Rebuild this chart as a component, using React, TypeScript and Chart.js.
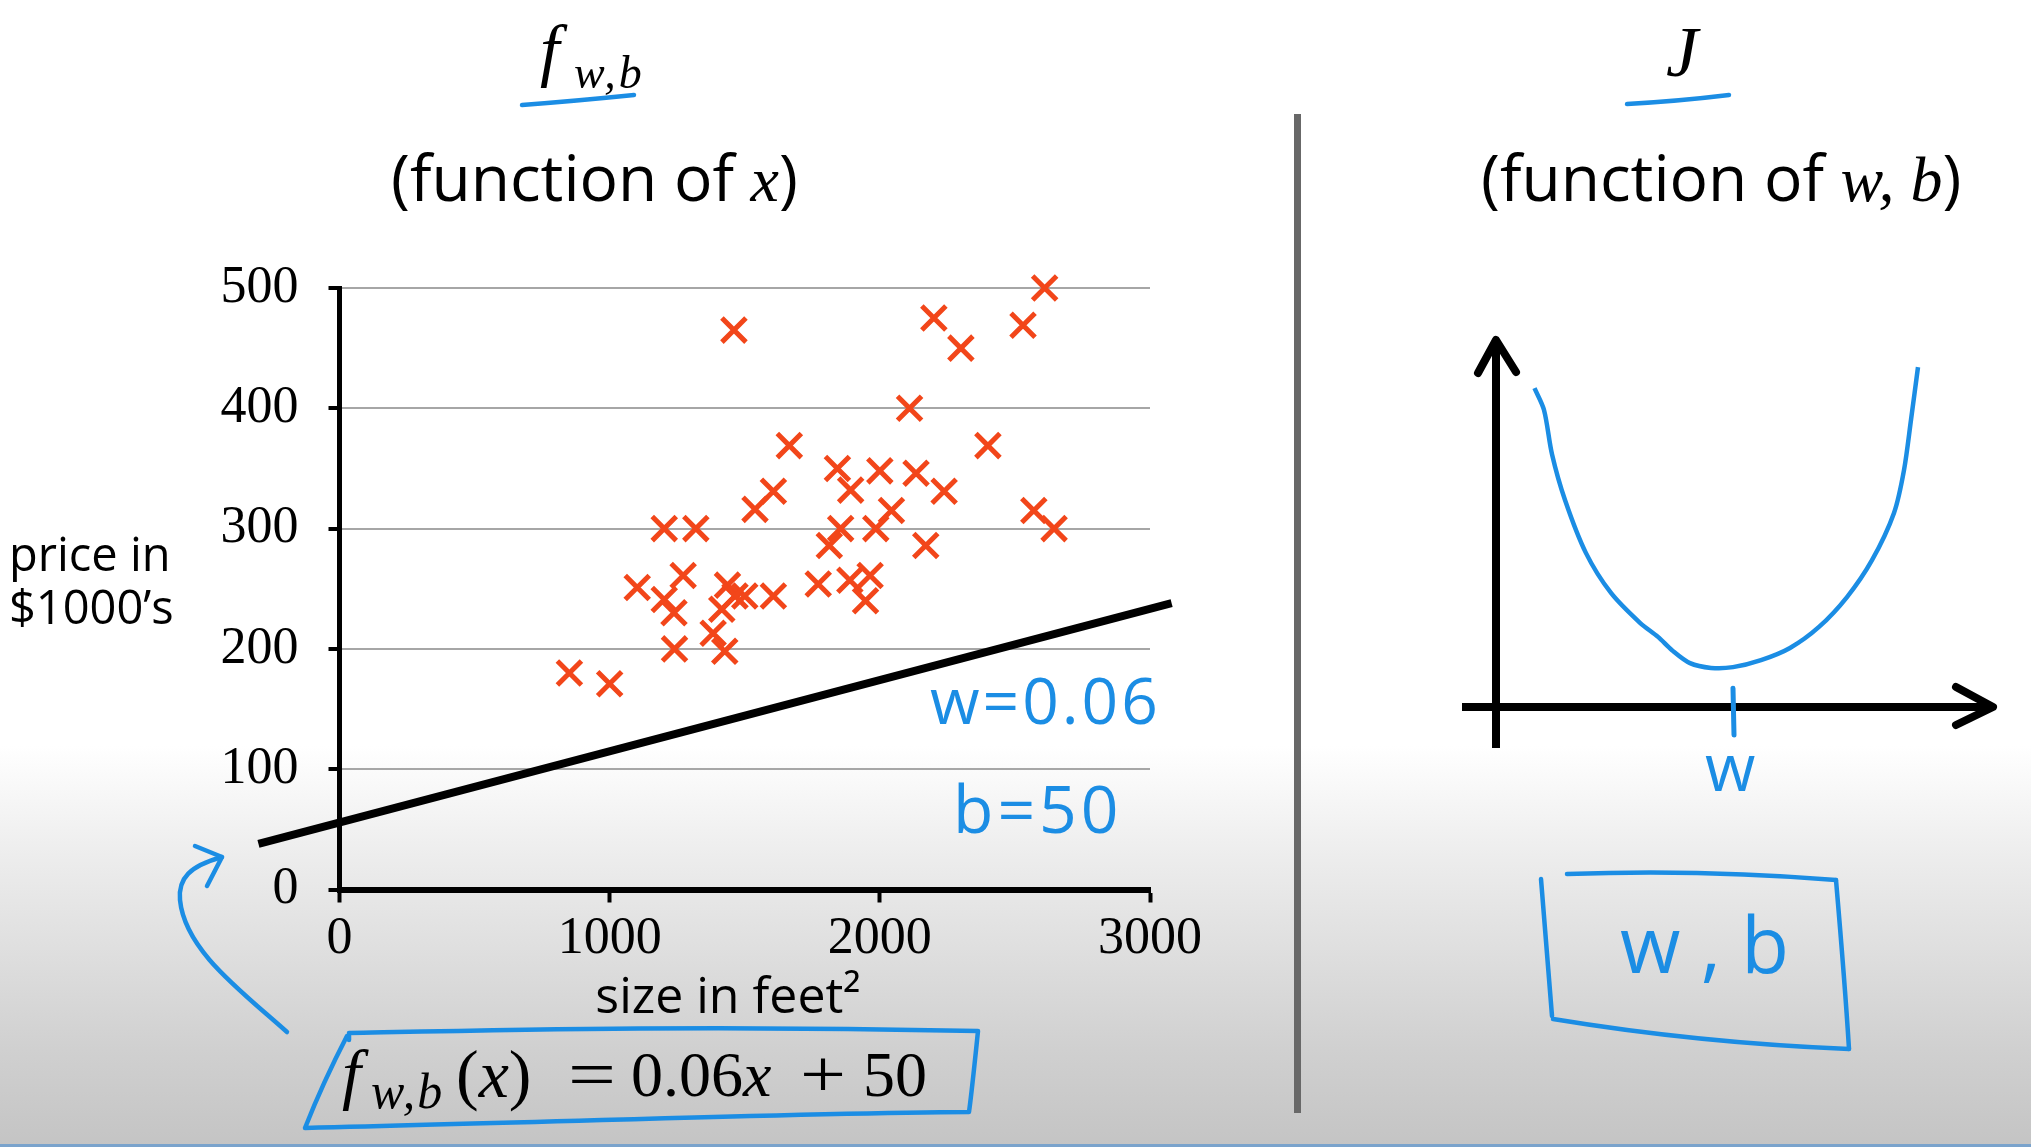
import React, { useEffect, useRef } from "react";
import { Chart, registerables } from "chart.js";

Chart.register(...registerables);

// ---------- data: house prices (left panel) ----------
const sizeSqft = [
  1460, 2610, 2200, 2300, 2530, 2110, 1665, 2400, 1843, 2000,
  2134, 1892, 2238, 1606, 1538, 2043, 2570, 1202, 1319, 1855,
  1985, 2645, 1813, 2170, 1272, 1102, 1436, 1772, 1889, 1964,
  1500, 1606, 1202, 1464, 1947, 1238, 1415, 1383, 1240, 1426,
  851, 1000,
];
const priceK = [
  465, 500, 475, 450, 469, 400, 369, 369, 350, 348,
  346, 332, 331, 331, 316, 315, 315, 300, 300, 300,
  300, 300, 286, 286, 261, 251, 253, 254, 257, 261,
  244, 244, 241, 244, 240, 230, 233, 213, 200, 198,
  180, 171,
];
// model line f(x) endpoints as drawn
const modelLineX = [-300, 3080];
const modelLineY = [38, 238];
const xTickValues = [0, 1000, 2000, 3000];
const yTickValues = [0, 100, 200, 300, 400, 500];

// ---------- data: cost curve J(w) (right panel, sketch units) ----------
const costW = [7.7, 9.6, 11.2, 13.8, 18, 23, 28.8, 32.4, 35.2, 38.8, 43, 47.4, 53, 58.8, 64.6, 70.2, 75.2, 79.6, 81.6, 83, 84.4];
const costJ = [86.4, 80.5, 68.5, 56.1, 41.7, 30.9, 22.8, 19, 15.4, 11.9, 10.6, 10.8, 12.7, 16, 21.7, 29.8, 39.8, 52.6, 64.2, 77.8, 92.1];
const costMinW = 47.4;
const costTickJ = [5.1, -7.6];
const costAxisX = [-6.8, 99.8];
const costAxisY = [-11.1, 100];

const BLUE = "#1b8de4";
const RED = "#f2461a";
const SANS = '"Open Sans", "Noto Sans", sans-serif';
const SERIF = '"Liberation Serif", "DejaVu Serif", serif';

// hand-drawn blue annotation strokes (page pixels)
const annotationPaths = [
  "M 522 105 Q 575 101 634 95",
  "M 1627 104 Q 1680 101 1729 95",
  "M 287 1032 C 240 990, 185 950, 180 900 C 178 878, 190 866, 222 857",
  "M 195 846 L 222 857 L 207 886",
  "M 349 1040 L 349 1033 C 500 1030, 700 1025, 978 1031 C 975 1060, 972 1090, 969 1112 C 800 1113, 600 1121, 305 1128 C 318 1095, 332 1065, 347 1036",
  "M 1541 879 L 1552 1016",
  "M 1567 874 C 1650 871, 1750 873, 1836 880",
  "M 1836 880 C 1842 950, 1846 1000, 1849 1049",
  "M 1553 1019 C 1650 1035, 1750 1045, 1849 1049",
];

const annotationPlugin = {
  id: "annotations",
  afterDraw(chart: any) {
    const ctx = chart.ctx;
    ctx.save();
    ctx.strokeStyle = BLUE;
    ctx.lineWidth = 4.5;
    ctx.lineCap = "round";
    ctx.lineJoin = "round";
    annotationPaths.forEach((d) => ctx.stroke(new Path2D(d)));
    ctx.restore();
  },
};

const costAxesPlugin = {
  id: "costAxes",
  beforeDatasetsDraw(chart: any) {
    const { ctx } = chart;
    const xs = chart.scales.x;
    const ys = chart.scales.y;
    const x0 = xs.getPixelForValue(0);
    const y0 = ys.getPixelForValue(0);
    const top = ys.getPixelForValue(costAxisY[1]);
    const bottom = ys.getPixelForValue(costAxisY[0]);
    const left = xs.getPixelForValue(costAxisX[0]);
    const right = xs.getPixelForValue(costAxisX[1]);
    ctx.save();
    ctx.strokeStyle = "#000";
    ctx.lineWidth = 8;
    ctx.lineCap = "butt";
    ctx.beginPath();
    ctx.moveTo(x0, bottom);
    ctx.lineTo(x0, top + 3);
    ctx.moveTo(left, y0);
    ctx.lineTo(right - 3, y0);
    ctx.stroke();
    ctx.lineCap = "round";
    ctx.lineJoin = "round";
    ctx.beginPath();
    ctx.moveTo(x0 - 18, top + 35);
    ctx.lineTo(x0, top + 2);
    ctx.lineTo(x0 + 20, top + 34);
    ctx.moveTo(right - 39, y0 - 20);
    ctx.lineTo(right - 2, y0);
    ctx.lineTo(right - 39, y0 + 18);
    ctx.stroke();
    ctx.restore();
  },
  afterDatasetsDraw(chart: any) {
    const { ctx } = chart;
    const xs = chart.scales.x;
    const ys = chart.scales.y;
    const xm = xs.getPixelForValue(costMinW);
    ctx.save();
    ctx.strokeStyle = BLUE;
    ctx.lineWidth = 5;
    ctx.lineCap = "round";
    ctx.beginPath();
    ctx.moveTo(xm, ys.getPixelForValue(costTickJ[0]));
    ctx.lineTo(xm + 1, ys.getPixelForValue(costTickJ[1]));
    ctx.stroke();
    ctx.restore();
  },
};

const abs = (left: number, top: number, size: number, family: string, extra: any = {}) => ({
  position: "absolute" as const,
  left,
  top,
  fontSize: size,
  fontFamily: family,
  lineHeight: 1,
  whiteSpace: "nowrap" as const,
  margin: 0,
  color: "#000",
  ...extra,
});

export default function App() {
  const leftRef = useRef<HTMLCanvasElement>(null);
  const rightRef = useRef<HTMLCanvasElement>(null);

  useEffect(() => {
    const left = new Chart(leftRef.current as HTMLCanvasElement, {
      type: "scatter",
      data: {
        datasets: [
          {
            type: "line",
            data: modelLineX.map((x, i) => ({ x, y: modelLineY[i] })),
            borderColor: "#000",
            borderWidth: 8,
            pointRadius: 0,
            clip: false,
            order: 2,
          } as any,
          {
            type: "scatter",
            data: sizeSqft.map((x, i) => ({ x, y: priceK[i] })),
            pointStyle: "crossRot",
            pointRadius: 17,
            borderColor: RED,
            backgroundColor: RED,
            borderWidth: 5,
            clip: false,
            order: 1,
          } as any,
        ],
      },
      options: {
        responsive: false,
        animation: false,
        events: [],
        layout: { padding: { left: 219.5, top: 288, right: 881, bottom: 157.5 } },
        plugins: { legend: { display: false }, tooltip: { enabled: false } },
        scales: {
          x: {
            type: "linear",
            min: 0,
            max: 3000,
            afterBuildTicks: (s: any) => {
              s.ticks = xTickValues.map((v) => ({ value: v }));
            },
            afterFit: (s: any) => {
              s.height = 100;
            },
            grid: { drawOnChartArea: false, drawTicks: true, tickLength: 13, tickWidth: 4, tickColor: "#000" },
            border: { display: true, color: "#000", width: 6 },
            ticks: {
              font: { family: SERIF, size: 52 },
              color: "#000",
              padding: 6,
              maxRotation: 0,
              autoSkip: false,
              callback: (v: any) => String(v),
            },
          },
          y: {
            type: "linear",
            min: 0,
            max: 500,
            afterBuildTicks: (s: any) => {
              s.ticks = yTickValues.map((v) => ({ value: v }));
            },
            afterFit: (s: any) => {
              s.width = 120;
            },
            grid: { color: "#a6a6a6", lineWidth: 2, drawTicks: true, tickLength: 11, tickWidth: 4, tickColor: "#000" },
            border: { display: true, color: "#000", width: 5 },
            ticks: {
              font: { family: SERIF, size: 52 },
              color: "#000",
              padding: 30,
              autoSkip: false,
              callback: (v: any) => String(v),
            },
          },
        },
      } as any,
      plugins: [annotationPlugin],
    });

    const right = new Chart(rightRef.current as HTMLCanvasElement, {
      type: "line",
      data: {
        datasets: [
          {
            data: costW.map((w, i) => ({ x: w, y: costJ[i] })),
            borderColor: BLUE,
            borderWidth: 4.5,
            pointRadius: 0,
            tension: 0.3,
            clip: false,
            fill: false,
          } as any,
        ],
      },
      options: {
        responsive: false,
        animation: false,
        events: [],
        layout: { padding: { left: 96, top: 38, right: 35, bottom: 93 } },
        plugins: { legend: { display: false }, tooltip: { enabled: false } },
        scales: {
          x: { type: "linear", min: 0, max: 100, display: false },
          y: { type: "linear", min: 0, max: 100, display: false },
        },
      } as any,
      plugins: [costAxesPlugin],
    });

    return () => {
      left.destroy();
      right.destroy();
    };
  }, []);

  return (
    <div
      style={{
        position: "fixed",
        left: 0,
        top: 0,
        width: 2031,
        height: 1147,
        overflow: "hidden",
        background:
          "linear-gradient(to bottom, #ffffff 0%, #ffffff 65%, #ececec 75%, #d0d0d0 91.5%, #c4c4c4 100%)",
      }}
    >
      <canvas ref={leftRef} width={2031} height={1147} style={{ position: "absolute", left: 0, top: 0, width: 2031, height: 1147 }} />
      <canvas ref={rightRef} width={631} height={500} style={{ position: "absolute", left: 1400, top: 300, width: 631, height: 500 }} />

      {/* divider and bottom edge */}
      <div style={{ position: "absolute", left: 1294, top: 114, width: 7, height: 999, background: "#686868" }} />
      <div style={{ position: "absolute", left: 0, top: 1144, width: 2031, height: 3, background: "#7aa3cc" }} />

      {/* left headings */}
      <div style={abs(540, 15.4, 70, SERIF, { fontStyle: "italic" })}>f</div>
      <div style={abs(574, 49.5, 46, SERIF, { fontStyle: "italic", letterSpacing: 3 })}>w,b</div>
      <div style={abs(391, 145, 64, SANS)}>
        (function of <span style={{ fontFamily: SERIF, fontStyle: "italic" }}>x</span>)
      </div>

      {/* right headings */}
      <div style={abs(1666, 16, 72, SERIF, { fontStyle: "italic" })}>J</div>
      <div style={abs(1481, 145, 64, SANS)}>
        (function of <span style={{ fontFamily: SERIF, fontStyle: "italic" }}>w, b</span>)
      </div>

      {/* axis titles */}
      <div style={abs(9, 527, 47, SANS, { lineHeight: "53px" })}>
        price in
        <br />
        $1000’s
      </div>
      <div style={abs(728, 968.6, 50, SANS, { transform: "translateX(-50%)" })}>size in feet²</div>

      {/* blue handwritten notes */}
      <div style={abs(930, 668, 64, SANS, { color: BLUE, letterSpacing: 3 })}>w=0.06</div>
      <div style={abs(953, 774, 66, SANS, { color: BLUE, letterSpacing: 4 })}>b=50</div>
      <div style={abs(1705, 734, 65, SANS, { color: BLUE })}>w</div>
      <div style={abs(1620, 904, 78, SANS, { color: BLUE })}>w , b</div>

      {/* formula */}
      <div style={abs(342, 1040, 68, SERIF, { fontStyle: "italic" })}>f</div>
      <div style={abs(371, 1066, 50, SERIF, { fontStyle: "italic", letterSpacing: 2 })}>w,b</div>
      <div style={abs(456, 1040, 68, SERIF)}>
        (<span style={{ fontStyle: "italic" }}>x</span>)
      </div>
      <div style={abs(568, 1040, 68, SERIF, { transform: "scaleX(1.25)", transformOrigin: "left center" })}>=</div>
      <div style={abs(631, 1043.4, 64, SERIF)}>
        0.06<span style={{ fontStyle: "italic" }}>x</span>
      </div>
      <div style={abs(800, 1040, 68, SERIF, { transform: "scaleX(1.2)", transformOrigin: "left center" })}>+</div>
      <div style={abs(863, 1043.4, 64, SERIF)}>50</div>
    </div>
  );
}
